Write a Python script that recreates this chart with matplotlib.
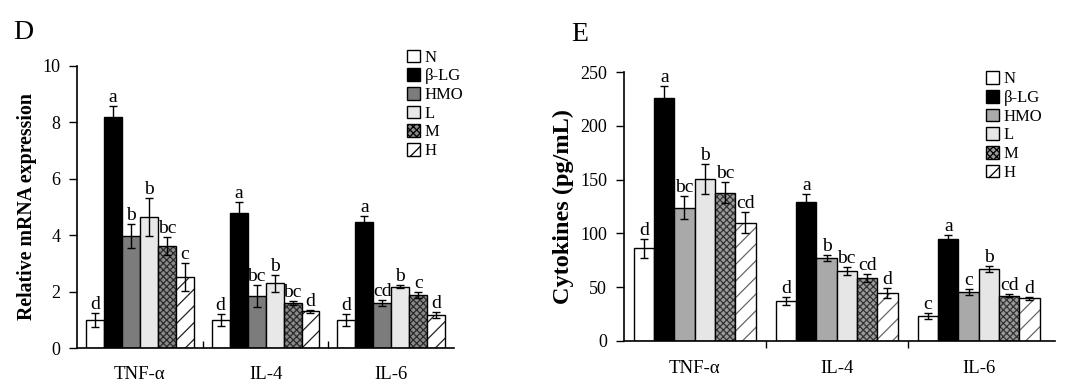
import numpy as np
import matplotlib
matplotlib.use('Agg')
import matplotlib.pyplot as plt
from matplotlib.patches import Patch

plt.rcParams['font.family'] = ['Liberation Serif', 'DejaVu Serif']
plt.rcParams['hatch.linewidth'] = 0.9

cytokines = ['TNF-α', 'IL-4', 'IL-6']
groups = ['N', 'β-LG', 'HMO', 'L', 'M', 'H']

# Panel D: relative mRNA expression
mrna = [[1.0, 8.2, 3.98, 4.66, 3.63, 2.53],
        [1.0, 4.8, 1.85, 2.3, 1.61, 1.31],
        [1.0, 4.48, 1.6, 2.18, 1.89, 1.18]]
mrna_err = [[0.25, 0.37, 0.42, 0.67, 0.32, 0.5],
            [0.2, 0.37, 0.38, 0.3, 0.08, 0.06],
            [0.2, 0.2, 0.12, 0.05, 0.1, 0.12]]
mrna_sig = [['d', 'a', 'b', 'b', 'bc', 'c'],
            ['d', 'a', 'bc', 'b', 'bc', 'd'],
            ['d', 'a', 'cd', 'b', 'c', 'd']]

# Panel E: cytokine concentration
conc = [[86, 226, 124, 151, 138, 110],
        [37, 129.5, 77, 65, 58.5, 44.5],
        [23, 95, 45.5, 67, 42, 39.5]]
conc_err = [[9, 11, 11, 14, 10, 10],
            [4, 7, 3, 4, 4, 5],
            [3, 3, 2.5, 3, 1.5, 1.5]]
conc_sig = [['d', 'a', 'bc', 'b', 'bc', 'cd'],
            ['d', 'a', 'b', 'bc', 'cd', 'd'],
            ['c', 'a', 'c', 'b', 'cd', 'd']]


def draw_panel(ax, vals, errs, sigs, styles, ylabel, ymax, ystep, xmax,
               label_size, tickdir, xpad, legend_anchor):
    vals = np.array(vals)
    errs = np.array(errs)
    x = np.arange(len(cytokines))
    w = 0.143
    for i, g in enumerate(groups):
        fc, hatch, hc = styles[i]
        xs = x + (i - 2.5) * w
        if hatch:
            ax.bar(xs, vals[:, i], w, color=fc, edgecolor=hc, hatch=hatch,
                   linewidth=0)
        else:
            ax.bar(xs, vals[:, i], w, color=fc, linewidth=0)
        ax.bar(xs, vals[:, i], w, fill=False, edgecolor='black', linewidth=1.0)
        ax.errorbar(xs, vals[:, i], yerr=errs[:, i], fmt='none',
                    ecolor='black', elinewidth=1.0, capsize=3, capthick=1.0)
        for k in range(len(cytokines)):
            ax.annotate(sigs[k][i], (xs[k], vals[k, i] + errs[k, i]),
                        xytext=(0, 0), textcoords='offset points',
                        ha='center', va='bottom', fontsize=14)
    ax.set_xlim(-0.5, xmax)
    ax.set_ylim(0, ymax)
    ax.set_yticks(np.arange(0, ymax + ystep / 2, ystep))
    ax.set_xticks(x)
    ax.set_xticklabels(cytokines, fontsize=13.5)
    ax.set_xticks([0.5, 1.5], minor=True)
    ax.tick_params(axis='x', which='major', length=0, pad=xpad)
    ax.tick_params(axis='x', which='minor', length=5, direction=tickdir,
                   width=1)
    ax.tick_params(axis='y', labelsize=13, length=6, width=1, pad=6)
    ax.spines['top'].set_visible(False)
    ax.spines['right'].set_visible(False)
    ax.spines['left'].set_linewidth(1.2)
    ax.spines['bottom'].set_linewidth(1.2)
    ax.set_ylabel(ylabel, fontsize=label_size, fontweight='bold')

    handles = [Patch(facecolor=s[0], edgecolor='black', hatch=s[1])
               for s in styles]
    ax.legend(handles, groups, loc='upper right', frameon=False,
              fontsize=12, handlelength=0.8, handleheight=0.8,
              handletextpad=0.3, labelspacing=0.15,
              bbox_to_anchor=legend_anchor)


fig = plt.figure(figsize=(10.76, 3.89), dpi=100)
ax1 = fig.add_axes([0.0716, 0.1046, 0.3504, 0.7266])
ax2 = fig.add_axes([0.5796, 0.1242, 0.4012, 0.69])

styles_d = [('white', None, None), ('black', None, None),
            ('#7c7c7c', None, None), ('#e8e8e8', None, None),
            ('#8a8a8a', 'xxxxx', '#2a2a2a'), ('white', '//', '#222222')]
styles_e = [('white', None, None), ('black', None, None),
            ('#a9a9a9', None, None), ('#e6e6e6', None, None),
            ('#9a9a9a', 'xxxxx', '#333333'), ('white', '//', '#666666')]

draw_panel(ax1, mrna, mrna_err, mrna_sig, styles_d,
           'Relative mRNA expression', 10, 2, 2.5, 14.3, 'in', 13,
           (1.065, 1.11))
draw_panel(ax2, conc, conc_err, conc_sig, styles_e,
           'Cytokines (pg/mL)', 250, 50, 2.54, 17.5, 'out', 14,
           (1.005, 1.06))

fig.text(0.012, 0.9, 'D', fontsize=20)
fig.text(0.531, 0.895, 'E', fontsize=20)

fig.savefig('out.png', dpi=100)
